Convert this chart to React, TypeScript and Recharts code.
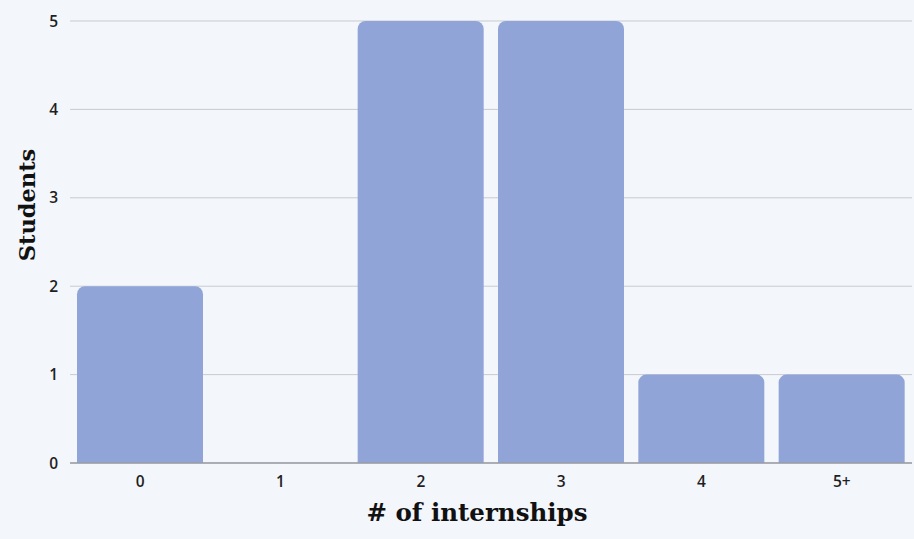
import React from 'react';
import { BarChart, Bar, XAxis, YAxis, CartesianGrid, Label } from 'recharts';

const internships = ['0', '1', '2', '3', '4', '5+'];
const students = [2, 0, 5, 5, 1, 1];
const yTicks = [0, 1, 2, 3, 4, 5];

const data = internships.map((name, i) => ({ name, students: students[i] }));

const BAR_COLOR = '#91a4d7';
const BG = '#f3f6fb';
const TICK_FONT = '"Open Sans", Lato, sans-serif';
const TITLE_FONT = '"DejaVu Serif", "Liberation Serif", serif';

export default function App() {
  return (
    <div style={{ position: 'absolute', left: 0, top: 0, width: 914, height: 539, background: BG }}>
      <BarChart
        width={914}
        height={539}
        data={data}
        margin={{ top: 21, right: 2, bottom: 46, left: 0 }}
        barCategoryGap={7}
      >
        <CartesianGrid vertical={false} stroke="#c9cbd1" strokeWidth={1} />
        <XAxis
          dataKey="name"
          height={30}
          axisLine={{ stroke: '#9a9ca3', strokeWidth: 1.5 }}
          tickLine={false}
          tickMargin={7}
          tick={{ fill: '#1f1f1f', fontSize: 15.5, fontFamily: TICK_FONT, fontWeight: 600 }}
        >
          <Label
            content={({ viewBox }: any) => (
              <text
                x={viewBox.x + viewBox.width / 2 - 14}
                y={viewBox.y + 58}
                textAnchor="middle"
                fill="#111"
                fontSize={24.5}
                fontWeight={700}
                fontFamily={TITLE_FONT}
              >
                # of internships
              </text>
            )}
          />
        </XAxis>
        <YAxis
          width={70}
          domain={[0, 5]}
          ticks={yTicks}
          axisLine={false}
          tickLine={false}
          tickMargin={6}
          tick={{ fill: '#1f1f1f', fontSize: 15.5, fontFamily: TICK_FONT, fontWeight: 600 }}
        >
          <Label
            content={({ viewBox }: any) => {
              const cx = viewBox.x + 27;
              const cy = viewBox.y + viewBox.height / 2 - 37;
              return (
                <text
                  x={cx}
                  y={cy}
                  transform={`rotate(-90 ${cx} ${cy})`}
                  textAnchor="middle"
                  dominantBaseline="central"
                  fill="#111"
                  fontSize={22.5}
                  fontWeight={700}
                  fontFamily={TITLE_FONT}
                >
                  Students
                </text>
              );
            }}
          />
        </YAxis>
        <Bar dataKey="students" fill={BAR_COLOR} radius={[8, 8, 0, 0]} isAnimationActive={false} />
      </BarChart>
    </div>
  );
}
